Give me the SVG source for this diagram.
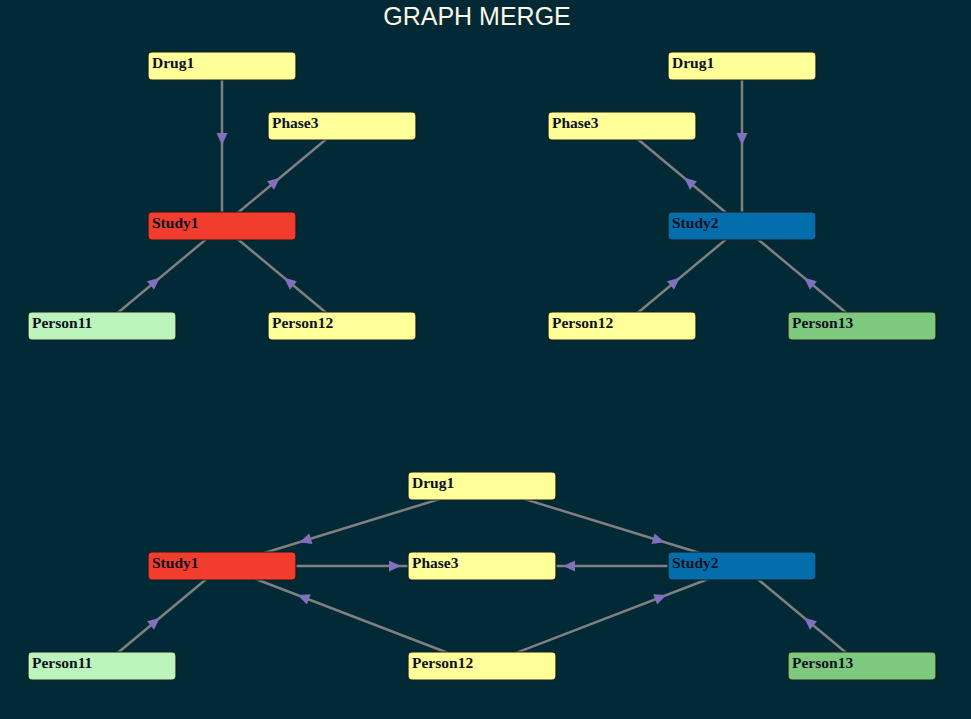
<svg xmlns="http://www.w3.org/2000/svg" width="971" height="719" viewBox="0 0 971 719">
<style>
.bg{fill:#022a36}
.title{font-family:"Liberation Sans",Arial,sans-serif;font-size:25px;fill:#fdf6e3;text-anchor:middle}
.edge{stroke:#808080;stroke-width:2.5;fill:none;marker-end:url(#arr)}
.node rect{stroke:#1a1a1a;stroke-width:1.2}
.node text{font-family:"Liberation Serif","Times New Roman",serif;font-weight:bold;font-size:15.5px;fill:#0d1020}
.yellow{fill:#ffff99}
.red{fill:#f23c2e}
.blue{fill:#036eab}
.lgreen{fill:#bcf5bc}
.green{fill:#7fc97f}
</style>
<defs>
<marker id="arr" markerUnits="userSpaceOnUse" orient="auto" refX="0" refY="0" markerWidth="1" markerHeight="1" overflow="visible">
<path d="M-93,-5.5 L-81,0 L-93,5.5 Z" fill="#8070bd"/>
</marker>
</defs>
<rect class="bg" x="0" y="0" width="971" height="719"/>
<text class="title" x="477" y="25">GRAPH MERGE</text>
<g id="connectors">
<line class="edge" x1="222" y1="66" x2="222" y2="226"/>
<line class="edge" x1="222" y1="226" x2="342" y2="126"/>
<line class="edge" x1="102" y1="326" x2="222" y2="226"/>
<line class="edge" x1="342" y1="326" x2="222" y2="226"/>
<line class="edge" x1="742" y1="66" x2="742" y2="226"/>
<line class="edge" x1="742" y1="226" x2="622" y2="126"/>
<line class="edge" x1="622" y1="326" x2="742" y2="226"/>
<line class="edge" x1="862" y1="326" x2="742" y2="226"/>
<line class="edge" x1="482" y1="486" x2="222" y2="566"/>
<line class="edge" x1="482" y1="486" x2="742" y2="566"/>
<line class="edge" x1="222" y1="566" x2="482" y2="566"/>
<line class="edge" x1="742" y1="566" x2="482" y2="566"/>
<line class="edge" x1="482" y1="666" x2="222" y2="566"/>
<line class="edge" x1="482" y1="666" x2="742" y2="566"/>
<line class="edge" x1="102" y1="666" x2="222" y2="566"/>
<line class="edge" x1="862" y1="666" x2="742" y2="566"/>
</g>
<g id="tl-drug1" class="node"><rect class="yellow" x="148" y="52" width="148" height="28" rx="4"/><text x="152" y="67.5">Drug1</text></g>
<g id="tl-phase3" class="node"><rect class="yellow" x="268" y="112" width="148" height="28" rx="4"/><text x="272" y="127.5">Phase3</text></g>
<g id="tl-study1" class="node"><rect class="red" x="148" y="212" width="148" height="28" rx="4"/><text x="152" y="227.5">Study1</text></g>
<g id="tl-person11" class="node"><rect class="lgreen" x="28" y="312" width="148" height="28" rx="4"/><text x="32" y="327.5">Person11</text></g>
<g id="tl-person12" class="node"><rect class="yellow" x="268" y="312" width="148" height="28" rx="4"/><text x="272" y="327.5">Person12</text></g>

<g id="tr-drug1" class="node"><rect class="yellow" x="668" y="52" width="148" height="28" rx="4"/><text x="672" y="67.5">Drug1</text></g>
<g id="tr-phase3" class="node"><rect class="yellow" x="548" y="112" width="148" height="28" rx="4"/><text x="552" y="127.5">Phase3</text></g>
<g id="tr-study2" class="node"><rect class="blue" x="668" y="212" width="148" height="28" rx="4"/><text x="672" y="227.5">Study2</text></g>
<g id="tr-person12" class="node"><rect class="yellow" x="548" y="312" width="148" height="28" rx="4"/><text x="552" y="327.5">Person12</text></g>
<g id="tr-person13" class="node"><rect class="green" x="788" y="312" width="148" height="28" rx="4"/><text x="792" y="327.5">Person13</text></g>

<g id="b-drug1" class="node"><rect class="yellow" x="408" y="472" width="148" height="28" rx="4"/><text x="412" y="487.5">Drug1</text></g>
<g id="b-study1" class="node"><rect class="red" x="148" y="552" width="148" height="28" rx="4"/><text x="152" y="567.5">Study1</text></g>
<g id="b-phase3" class="node"><rect class="yellow" x="408" y="552" width="148" height="28" rx="4"/><text x="412" y="567.5">Phase3</text></g>
<g id="b-study2" class="node"><rect class="blue" x="668" y="552" width="148" height="28" rx="4"/><text x="672" y="567.5">Study2</text></g>
<g id="b-person11" class="node"><rect class="lgreen" x="28" y="652" width="148" height="28" rx="4"/><text x="32" y="667.5">Person11</text></g>
<g id="b-person12" class="node"><rect class="yellow" x="408" y="652" width="148" height="28" rx="4"/><text x="412" y="667.5">Person12</text></g>
<g id="b-person13" class="node"><rect class="green" x="788" y="652" width="148" height="28" rx="4"/><text x="792" y="667.5">Person13</text></g>
</svg>
